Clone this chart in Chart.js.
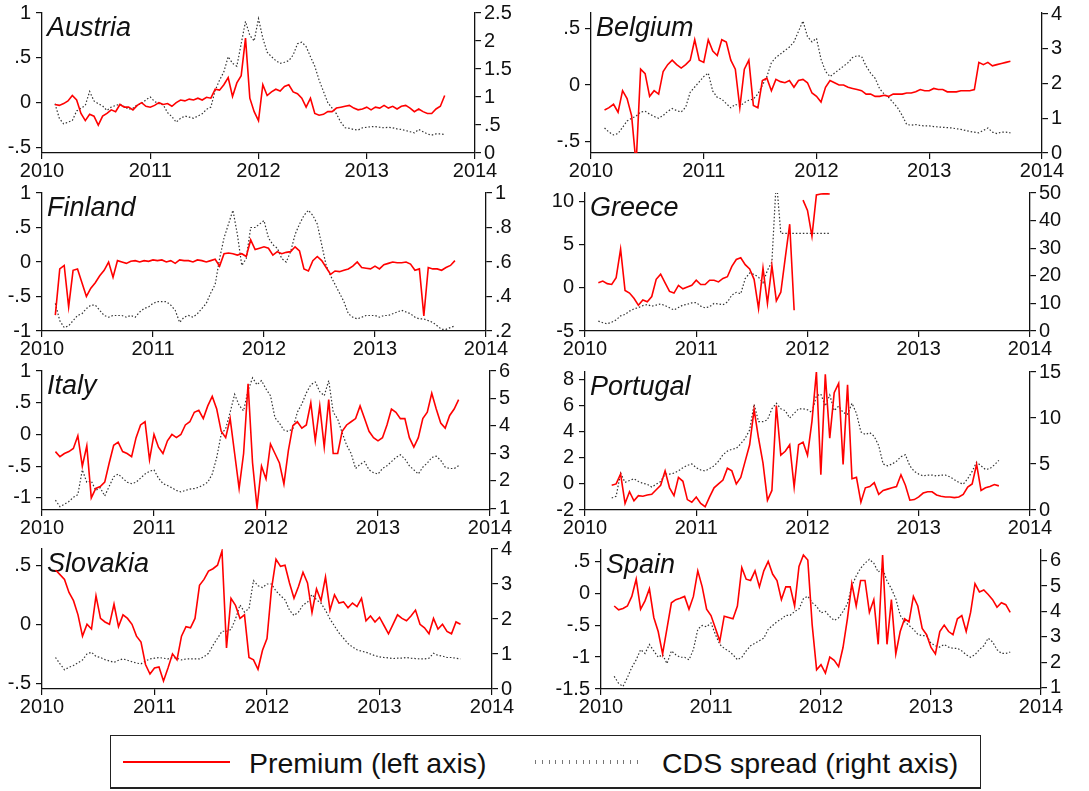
<!DOCTYPE html>
<html lang="en">
<head>
    <meta charset="UTF-8">
    <title>Premium and CDS spread</title>
    <script src="https://cdn.jsdelivr.net/npm/chart.js"></script>
    <style>
        body { margin: 0; width: 1089px; height: 791px; position: relative; overflow: hidden; background: #fff;
               font-family: "Liberation Sans", Arial, sans-serif; color: #111; }
        canvas { position: absolute; }
        .legend-box { position: absolute; left: 110px; top: 735px; width: 871px; height: 54px; box-sizing: border-box;
                      border: 1.5px solid #222; border-bottom-width: 2.5px; }
        .legend-text { position: absolute; font-size: 28.5px; line-height: 1; top: 749px; white-space: nowrap; }
        .sample-red { position: absolute; left: 123px; top: 761px; width: 107px; height: 2px; background: #ff0000; }
        .sample-dot { position: absolute; left: 535px; top: 760px; width: 103px; height: 4px;
                      background: repeating-linear-gradient(to right, #777 0 1px, transparent 1px 6.8px); }
    </style>
</head>
<body>
    <div class="legend-box"></div>
    <div class="sample-red"></div>
    <div class="legend-text" style="left:249px">Premium (left axis)</div>
    <div class="sample-dot"></div>
    <div class="legend-text" style="left:662px">CDS spread (right axis)</div>

<script>
// dates in decimal years, about two weeks apart
const dates = [
    2010.12, 2010.16, 2010.20, 2010.24, 2010.28, 2010.32, 2010.36, 2010.40, 2010.44, 2010.48,
    2010.52, 2010.56, 2010.60, 2010.64, 2010.68, 2010.72, 2010.76, 2010.80, 2010.84, 2010.88,
    2010.92, 2010.96, 2011.00, 2011.04, 2011.08, 2011.12, 2011.16, 2011.20, 2011.24, 2011.28,
    2011.32, 2011.36, 2011.40, 2011.44, 2011.48, 2011.52, 2011.56, 2011.60, 2011.64, 2011.68,
    2011.72, 2011.76, 2011.80, 2011.84, 2011.88, 2011.92, 2011.96, 2012.00, 2012.04, 2012.08,
    2012.12, 2012.16, 2012.20, 2012.24, 2012.28, 2012.32, 2012.36, 2012.40, 2012.44, 2012.48,
    2012.52, 2012.56, 2012.60, 2012.64, 2012.68, 2012.72, 2012.76, 2012.80, 2012.84, 2012.88,
    2012.92, 2012.96, 2013.00, 2013.04, 2013.08, 2013.12, 2013.16, 2013.20, 2013.24, 2013.28,
    2013.32, 2013.36, 2013.40, 2013.44, 2013.48, 2013.52, 2013.56, 2013.60, 2013.64, 2013.68,
    2013.72
];
const yearTicks = [2010, 2011, 2012, 2013, 2014];

const austriaPremium = [
    -0.02, -0.03, -0.01, 0.02, 0.08, 0.03, -0.12, -0.2, -0.13, -0.15,
    -0.25, -0.15, -0.12, -0.08, -0.1, -0.02, -0.05, -0.05, -0.08, -0.03,
    0.0, -0.04, -0.05, -0.03, 0.0, -0.02, -0.01, -0.04, 0.0, 0.03,
    0.02, 0.04, 0.03, 0.05, 0.03, 0.06, 0.05, 0.15, 0.14, 0.2,
    0.28, 0.07, 0.22, 0.3, 0.72, 0.05, -0.1, -0.2, 0.2, 0.08,
    0.12, 0.15, 0.13, 0.18, 0.2, 0.12, 0.1, 0.05, -0.05, 0.05,
    -0.12, -0.14, -0.13, -0.1, -0.1, -0.06, -0.05, -0.04, -0.03, -0.06,
    -0.08, -0.07, -0.05, -0.08, -0.05, -0.06, -0.03, -0.06, -0.04, -0.07,
    -0.04, -0.03, -0.06, -0.1, -0.07, -0.1, -0.12, -0.12, -0.07, -0.04,
    0.08
];
const austriaCds = [
    0.88, 0.62, 0.52, 0.55, 0.58, 0.75, 0.8, 0.85, 1.1, 0.93,
    0.88, 0.84, 0.76, 0.82, 0.85, 0.87, 0.83, 0.78, 0.8, 0.86,
    0.88, 0.95, 1.0, 0.92, 0.88, 0.86, 0.72, 0.65, 0.55, 0.62,
    0.66, 0.64, 0.62, 0.66, 0.7, 0.78, 0.82, 1.12, 1.3, 1.45,
    1.72, 1.6, 1.55, 1.95, 2.35, 2.1, 2.0, 2.4, 2.05, 1.8,
    1.72, 1.65, 1.6, 1.62, 1.65, 1.75, 1.95, 1.98, 1.9, 1.72,
    1.55, 1.3, 1.1, 0.9, 0.8, 0.7, 0.55, 0.45, 0.44, 0.42,
    0.41, 0.45, 0.46, 0.47, 0.47, 0.46, 0.45, 0.46, 0.45, 0.43,
    0.42, 0.4, 0.38, 0.36, 0.42, 0.38, 0.34, 0.32, 0.34, 0.34,
    0.33
];

const belgiumPremium = [
    -0.22, -0.2, -0.17, -0.24, -0.05, -0.12, -0.27, -0.7, 0.14, 0.1,
    -0.1, -0.05, -0.08, 0.12, 0.18, 0.22, 0.18, 0.15, 0.18, 0.22,
    0.4, 0.22, 0.2, 0.4, 0.3, 0.26, 0.4, 0.38, 0.22, 0.14,
    -0.2, 0.14, 0.22, -0.18, -0.2, 0.04, 0.06, -0.05, 0.05, 0.03,
    0.02, 0.04, -0.02, 0.04, 0.05, 0.02, -0.07, -0.1, -0.15, -0.02,
    0.04, 0.02, 0.0, 0.0, -0.02, -0.03, -0.04, -0.05, -0.08, -0.08,
    -0.1, -0.1, -0.09, -0.1, -0.08, -0.08, -0.08, -0.07, -0.07, -0.06,
    -0.04, -0.05, -0.05, -0.03, -0.04, -0.04, -0.06, -0.06, -0.06, -0.05,
    -0.05, -0.05, -0.04, 0.2, 0.18, 0.2, 0.17, 0.18, 0.19, 0.2,
    0.21
];
const belgiumCds = [
    0.72, 0.6, 0.52, 0.56, 0.74, 0.92, 1.0, 1.06, 1.18, 1.2,
    1.12, 1.05, 1.0, 1.08, 1.2, 1.28, 1.22, 1.18, 1.32, 1.75,
    1.9, 2.05, 2.2, 2.3, 1.78, 1.6, 1.55, 1.42, 1.3, 1.4,
    1.35, 1.45, 1.52, 1.55, 1.7, 1.95, 2.2, 2.6, 2.75, 2.85,
    2.95, 3.05, 3.2, 3.5, 3.8, 3.35, 3.2, 3.3, 2.7, 2.35,
    2.2, 2.3, 2.4, 2.5, 2.6, 2.75, 2.8, 2.78, 2.5, 2.3,
    2.15, 1.85, 1.7, 1.6, 1.45, 1.3, 1.08, 0.82, 0.8, 0.82,
    0.79, 0.78, 0.78, 0.76, 0.75, 0.74, 0.73, 0.72, 0.7, 0.68,
    0.65, 0.62, 0.6, 0.58, 0.65, 0.72, 0.6, 0.56, 0.6, 0.6,
    0.58
];

const finlandPremium = [
    -0.77, -0.1, -0.05, -0.65, -0.12, -0.1, -0.3, -0.5, -0.38, -0.3,
    -0.2, -0.12, 0.0, -0.22, 0.02, 0.0, -0.02, 0.01, 0.02, 0.0,
    0.02, 0.01, 0.03, 0.02, 0.03, 0.0, 0.02, -0.02, 0.03, 0.02,
    0.02, 0.0, 0.03, 0.02, 0.0, 0.02, 0.04, -0.06, 0.12, 0.13,
    0.12, 0.1, 0.12, 0.08, 0.32, 0.18, 0.2, 0.22, 0.2, 0.1,
    0.15, 0.12, 0.14, 0.15, 0.22, 0.16, -0.1, -0.13, 0.02, 0.08,
    0.02, -0.08, -0.18, -0.13, -0.14, -0.12, -0.1, -0.06, 0.0, -0.08,
    -0.09, -0.1, -0.06, -0.1, -0.04, -0.02, 0.0, -0.01, -0.01, 0.0,
    -0.03, -0.12, -0.1, -0.78, -0.08, -0.1, -0.1, -0.12, -0.08, -0.05,
    0.02
];
const finlandCds = [
    0.36, 0.26, 0.22, 0.23, 0.26, 0.29, 0.3, 0.33, 0.35, 0.35,
    0.32, 0.29, 0.28, 0.29, 0.29, 0.29, 0.28, 0.29, 0.28, 0.31,
    0.33, 0.34, 0.36, 0.37, 0.37, 0.37, 0.35, 0.32, 0.25, 0.28,
    0.29, 0.28, 0.3, 0.33, 0.36, 0.42, 0.47, 0.62, 0.74, 0.82,
    0.9, 0.76, 0.58, 0.62, 0.8, 0.8, 0.82, 0.84, 0.74, 0.7,
    0.68, 0.62, 0.6, 0.66, 0.76, 0.82, 0.87, 0.9, 0.87, 0.82,
    0.7, 0.58, 0.52, 0.47, 0.42, 0.37, 0.3, 0.28, 0.27, 0.28,
    0.29, 0.29, 0.29, 0.28, 0.29, 0.29, 0.3, 0.31, 0.32, 0.31,
    0.3, 0.28, 0.27, 0.27, 0.26, 0.25, 0.23, 0.21, 0.21, 0.22,
    0.23
];

const greecePremium = [
    0.6, 0.8, 0.5, 0.4, 1.2, 4.5, -0.3, -0.6, -1.2, -2.0,
    -1.4, -1.6, -1.0, 1.0, 1.6, 0.6, -0.4, -0.6, 0.3, -0.1,
    0.1, 0.3, 0.9, 0.4, 0.4, 0.9, 0.9, 0.7, 1.1, 1.3,
    2.5, 3.3, 3.5, 2.7, 2.2, 1.0, -2.4, 2.3, -1.8, 2.6,
    -1.5, -0.5, 3.5, 7.4, -2.6, null, 10.2, 9.0, 6.0, 10.8,
    10.9, 10.95, 10.9, null, null, null, null, null, null, null,
    null, null, null, null, null, null, null, null, null, null,
    null, null, null, null, null, null, null, null, null, null,
    null, null, null, null, null, null, null, null, null, null,
    null
];
const greeceCds = [
    3.6, 3.0, 2.6, 3.2, 4.0, 5.5, 6.0, 7.2, 8.0, 8.5,
    9.2, 9.6, 9.0, 9.4, 9.8, 9.2, 8.4, 7.6, 8.5, 9.4,
    9.7, 10.2, 10.3, 9.0, 8.4, 8.8, 10.0, 9.8, 9.5, 10.5,
    13.0, 14.0, 13.5, 19.0, 21.0, 20.5, 19.5, 17.5, 22.0, 25.0,
    55, 35.4, 35.4, 35.4, 35.4, 35.4, 35.4, 35.4, 35.4, 35.4,
    35.4, 35.4, 35.4, null, null, null, null, null, null, null,
    null, null, null, null, null, null, null, null, null, null,
    null, null, null, null, null, null, null, null, null, null,
    null, null, null, null, null, null, null, null, null, null,
    null
];

const italyPremium = [
    -0.27, -0.35, -0.3, -0.27, -0.22, -0.02, -0.5, -0.18, -1.0, -0.85,
    -0.82, -0.75, -0.45, -0.17, -0.12, -0.27, -0.3, -0.35, -0.05, 0.15,
    0.2, -0.4, 0.0, -0.2, -0.3, -0.1, 0.0, -0.05, 0.0, 0.15,
    0.2, 0.35, 0.38, 0.25, 0.45, 0.6, 0.4, 0.05, -0.05, 0.25,
    -0.3, -0.85, -0.3, 0.8, -0.45, -1.15, -0.5, -0.7, -0.15, -0.3,
    -0.45, -0.78, -0.25, 0.14, 0.2, 0.1, 0.15, 0.5, -0.1, 0.45,
    -0.2, 0.55, -0.3, -0.3, 0.05, 0.15, 0.2, 0.25, 0.45, 0.25,
    0.05, -0.05, -0.1, -0.05, 0.15, 0.4, 0.35, 0.25, 0.25, -0.05,
    -0.2, -0.05, 0.25, 0.35, 0.65, 0.4, 0.18, 0.1, 0.3, 0.4,
    0.55
];
const italyCds = [
    1.3, 1.06, 1.15, 1.25, 1.4, 1.5, 2.4, 1.95, 2.0, 1.65,
    1.75, 1.45, 1.8, 2.15, 2.25, 2.1, 1.95, 1.9, 1.95, 2.1,
    2.25, 2.35, 2.4, 2.1, 1.9, 1.83, 1.75, 1.65, 1.6, 1.65,
    1.7, 1.72, 1.77, 1.85, 1.95, 2.25, 2.85, 3.7, 3.9, 4.5,
    5.15, 4.75, 4.55, 5.3, 5.75, 5.5, 5.65, 5.35, 5.1, 4.3,
    4.1, 3.85, 3.8, 3.9, 4.5, 4.8, 5.2, 5.5, 5.6, 5.25,
    5.1, 5.65, 4.5, 4.25, 3.75, 3.3, 3.0, 2.45, 2.6, 2.7,
    2.4, 2.3, 2.25, 2.45, 2.55, 2.7, 2.85, 2.95, 2.8, 2.55,
    2.4, 2.25, 2.5, 2.65, 2.85, 2.9, 2.75, 2.5, 2.45, 2.45,
    2.55
];

const portugalPremium = [
    null, null, null, -0.1, 0.0, 0.75, -1.5, -0.6, -1.3, -0.9,
    -0.95, -0.85, -0.8, -0.45, -0.1, 1.0, -0.3, -0.9, 0.5, 0.2,
    -1.2, -1.4, -1.0, -1.5, -1.75, -1.0, -0.3, 0.0, 0.3, 1.2,
    1.0, 0.0, 0.5, 1.75, 3.0, 5.7, 3.5, 1.6, -1.25, -0.5,
    6.0, 2.2, 2.5, 3.0, -0.25, 3.0, 3.2, 2.2, 4.8, 8.6,
    0.7, 8.4, 3.5, 7.0, 7.7, 1.5, 7.6, 0.4, 0.5, -1.4,
    -0.3, -0.2, 0.1, -0.8, -0.5, -0.4, -0.3, -0.2, 0.7, -0.1,
    -1.25, -1.2, -1.0, -0.7, -0.6, -0.6, -0.85, -0.95, -1.0, -1.0,
    -1.05, -1.0, -0.8, -0.25, 0.0, 1.5, -0.5, -0.3, -0.2, -0.05,
    -0.15
];
const portugalCds = [
    null, null, null, 1.3, 1.5, 4.0, 3.0, 3.2, 3.4, 3.1,
    2.9, 2.8, 2.5, 2.8, 3.1, 3.9, 3.9, 4.0, 4.25, 4.6,
    4.85, 5.0, 4.6, 4.35, 4.25, 4.5, 4.8, 5.3, 6.0, 6.4,
    6.6, 6.7, 7.2, 7.8, 8.7, 11.5, 9.6, 9.6, 9.8, 11.0,
    11.6, 11.0, 10.8, 10.0, 10.5, 11.0, 11.0, 10.9, 10.6, 12.4,
    12.6, 11.3, 12.5, 10.8, 11.3, 10.6, 10.4, 11.6, 10.5, 8.5,
    8.2, 8.4, 8.0, 7.0, 5.0, 4.8, 5.0, 5.3, 5.8, 6.0,
    4.8, 4.2, 3.9, 3.7, 3.8, 3.8, 3.7, 3.8, 3.8, 3.6,
    3.3, 3.0, 2.8, 3.4, 4.2, 5.2, 4.8, 4.4, 4.5, 4.9,
    5.4
];

const slovakiaPremium = [
    0.46, 0.42, 0.38, 0.27, 0.2, 0.08, -0.1, 0.0, -0.04, 0.24,
    0.05, 0.02, 0.0, 0.17, -0.02, 0.08, 0.05, 0.0, -0.1, -0.15,
    -0.34, -0.42, -0.37, -0.36, -0.48, -0.37, -0.25, -0.3, -0.1, -0.02,
    -0.03, 0.05, 0.33, 0.38, 0.45, 0.47, 0.5, 0.62, -0.2, 0.22,
    0.16, 0.05, 0.08, -0.28, -0.3, -0.38, -0.22, -0.12, 0.3, 0.55,
    0.49, 0.5, 0.35, 0.22, 0.32, 0.44, 0.35, 0.1, 0.3, 0.2,
    0.4, 0.12, 0.25, 0.18, 0.19, 0.14, 0.18, 0.15, 0.22, 0.03,
    0.07, 0.02, 0.06, -0.01, -0.08, 0.0, 0.08, 0.05, 0.03, 0.07,
    0.12, 0.0, -0.03, -0.08, 0.05, -0.04, 0.0, -0.06, -0.08, 0.02,
    0.0
];
const slovakiaCds = [
    0.9, 0.72, 0.55, 0.62, 0.67, 0.75, 0.83, 1.0, 1.05, 0.93,
    0.9, 0.84, 0.8, 0.76, 0.82, 0.86, 0.82, 0.78, 0.74, 0.72,
    0.8, 0.86, 0.88, 0.9, 0.88, 0.86, 0.9, 0.88, 0.83, 0.86,
    0.86, 0.86, 0.86, 0.92, 1.02, 1.25, 1.45, 1.65, 1.65, 1.7,
    2.0, 2.4, 2.2, 2.3, 3.1, 2.95, 2.9, 3.0, 3.0, 2.8,
    2.67, 2.55, 2.25, 2.1, 2.2, 2.4, 2.48, 2.7, 2.55, 2.45,
    2.25, 2.0, 1.8, 1.6, 1.45, 1.3, 1.2, 1.12, 1.08, 1.05,
    1.0, 0.95, 0.92, 0.9, 0.89, 0.87, 0.88, 0.88, 0.9, 0.88,
    0.87, 0.86, 0.86, 0.88, 1.02, 0.96, 0.94, 0.9, 0.9, 0.88,
    0.86
];

const spainPremium = [
    -0.2, -0.26, -0.24, -0.2, -0.05, 0.22, -0.25, -0.12, 0.07, -0.38,
    -0.6, -0.95, -0.55, -0.15, -0.1, -0.08, -0.05, -0.25, -0.05, 0.35,
    0.1, -0.25, -0.35, -0.55, -0.75, -0.36, -0.38, -0.4, -0.2, 0.4,
    0.22, 0.2, 0.35, 0.1, 0.35, 0.5, 0.3, 0.2, -0.1, 0.1,
    0.1, -0.2, 0.42, 0.6, 0.52, -0.5, -1.2, -1.12, -1.25, -1.0,
    -1.05, -1.15, -0.85, -0.4, 0.15, -0.2, 0.2, 0.2, -0.3, -0.1,
    -0.8, 0.6, -0.8, -0.1, -0.95, -0.6, -0.4, -0.45, -0.05, -0.2,
    -0.55, -0.65, -0.85, -0.95, -0.6, -0.5, -0.6, -0.65, -0.4, -0.35,
    -0.6, -0.3, 0.15, 0.02, 0.05, -0.02, -0.1, -0.22, -0.15, -0.18,
    -0.3
];
const spainCds = [
    1.45, 1.17, 1.05, 1.4, 1.8, 2.1, 2.5, 2.35, 2.7, 2.45,
    2.2, 2.3, 1.95, 2.45, 2.3, 2.2, 2.2, 2.1, 2.5, 3.3,
    3.45, 3.4, 3.55, 3.1, 2.7, 2.55, 2.45, 2.3, 2.1, 2.2,
    2.45, 2.65, 2.75, 2.85, 2.95, 3.3, 3.45, 3.6, 3.7, 3.85,
    3.85, 4.0, 4.1, 4.5, 4.6, 4.35, 4.2, 3.95, 4.0, 3.8,
    3.65, 3.75, 4.0, 4.3, 5.0, 5.4, 5.7, 5.9, 6.05, 5.9,
    5.55, 5.7, 5.2, 4.9, 4.5, 3.85, 3.6, 3.45, 3.3, 3.1,
    3.05, 3.05, 2.75, 2.65, 2.6, 2.7, 2.6, 2.55, 2.55, 2.45,
    2.3, 2.2, 2.3, 2.5, 2.65, 2.95, 2.8, 2.5, 2.35, 2.35,
    2.4
];

// tick labels of each panel
const austriaLeftTicks = [-0.5, 0, 0.5, 1];
const austriaRightTicks = [0, 0.5, 1, 1.5, 2, 2.5];
const belgiumLeftTicks = [-0.5, 0, 0.5];
const belgiumRightTicks = [0, 1, 2, 3, 4];
const finlandLeftTicks = [-1, -0.5, 0, 0.5, 1];
const finlandRightTicks = [0.2, 0.4, 0.6, 0.8, 1];
const greeceLeftTicks = [-5, 0, 5, 10];
const greeceRightTicks = [0, 10, 20, 30, 40, 50];
const italyLeftTicks = [-1, -0.5, 0, 0.5, 1];
const italyRightTicks = [1, 2, 3, 4, 5, 6];
const portugalLeftTicks = [-2, 0, 2, 4, 6, 8];
const portugalRightTicks = [0, 5, 10, 15];
const slovakiaLeftTicks = [-0.5, 0, 0.5];
const slovakiaRightTicks = [0, 1, 2, 3, 4];
const spainLeftTicks = [-1.5, -1, -0.5, 0, 0.5];
const spainRightTicks = [1, 2, 3, 4, 5, 6];

// box = plot area [left, top, right, bottom] on the page
const panels = [
    { name: 'Austria', premium: austriaPremium, cds: austriaCds, box: [42, 10, 475, 153],
      left: [-0.561, 1], right: [0, 2.5], leftTicks: austriaLeftTicks, rightTicks: austriaRightTicks },
    { name: 'Belgium', premium: belgiumPremium, cds: belgiumCds, box: [591, 10, 1042, 153],
      left: [-0.6, 0.636], right: [0, 4.03], leftTicks: belgiumLeftTicks, rightTicks: belgiumRightTicks },
    { name: 'Finland', premium: finlandPremium, cds: finlandCds, box: [42, 190, 486, 331],
      left: [-1, 1], right: [0.2, 1], leftTicks: finlandLeftTicks, rightTicks: finlandRightTicks },
    { name: 'Greece', premium: greecePremium, cds: greeceCds, box: [585, 190, 1030, 331],
      left: [-5, 11.02], right: [0, 50], leftTicks: greeceLeftTicks, rightTicks: greeceRightTicks },
    { name: 'Italy', premium: italyPremium, cds: italyCds, box: [42, 368, 490, 510],
      left: [-1.19, 1], right: [0.94, 6], leftTicks: italyLeftTicks, rightTicks: italyRightTicks },
    { name: 'Portugal', premium: portugalPremium, cds: portugalCds, box: [585, 369, 1030, 510],
      left: [-2, 8.58], right: [0, 15], leftTicks: portugalLeftTicks, rightTicks: portugalRightTicks },
    { name: 'Slovakia', premium: slovakiaPremium, cds: slovakiaCds, box: [42, 546, 492, 689],
      left: [-0.547, 0.637], right: [0, 4], leftTicks: slovakiaLeftTicks, rightTicks: slovakiaRightTicks },
    { name: 'Spain', premium: spainPremium, cds: spainCds, box: [601, 547, 1041, 689],
      left: [-1.5, 0.677], right: [0.95, 6.42], leftTicks: spainLeftTicks, rightTicks: spainRightTicks }
];

const FONT = '"Liberation Sans", Arial, sans-serif';
const ML = 64, MR = 56, MT = 14, MB = 34;

// Stata style labels: .5 and -.5 instead of 0.5
function stataLabel(v) {
    const s = String(Math.round(v * 100) / 100);
    return s.replace(/^0\./, '.').replace(/^-0\./, '-.');
}

const panelTitle = {
    id: 'panelTitle',
    beforeDatasetsDraw(chart, args, opts) {
        const { ctx, chartArea } = chart;
        ctx.save();
        ctx.font = 'italic 27px ' + FONT;
        ctx.fillStyle = '#111';
        ctx.textBaseline = 'alphabetic';
        ctx.fillText(opts.text, chartArea.left + 5, chartArea.top + 23);
        ctx.restore();
    }
};

function axisStyle(extra) {
    return Object.assign({
        grid: { drawOnChartArea: false, drawTicks: true, tickLength: 6, color: '#111', lineWidth: 1.2 },
        border: { display: true, color: '#111', width: 1.3 },
        ticks: { color: '#111', font: { family: FONT, size: 20 }, autoSkip: false, maxRotation: 0, padding: 5 }
    }, extra);
}

function toPoints(values) {
    return dates.map((d, i) => ({ x: d, y: values[i] }));
}

function drawPanel(p) {
    const [L, T, R, B] = p.box;
    const canvas = document.createElement('canvas');
    canvas.width = R - L + ML + MR;
    canvas.height = B - T + MT + MB;
    canvas.style.left = (L - ML) + 'px';
    canvas.style.top = (T - MT) + 'px';
    document.body.appendChild(canvas);

    const x = axisStyle({ type: 'linear', position: 'bottom', min: 2010, max: 2014,
        afterBuildTicks: s => { s.ticks = yearTicks.map(v => ({ value: v })); },
        afterFit: s => { s.height = MB; } });
    x.ticks.callback = v => String(v);
    x.ticks.padding = 0;

    const yL = axisStyle({ type: 'linear', position: 'left', min: p.left[0], max: p.left[1],
        afterBuildTicks: s => { s.ticks = p.leftTicks.map(v => ({ value: v })); },
        afterFit: s => { s.width = ML; } });
    yL.ticks.callback = v => stataLabel(v);

    const yR = axisStyle({ type: 'linear', position: 'right', min: p.right[0], max: p.right[1],
        afterBuildTicks: s => { s.ticks = p.rightTicks.map(v => ({ value: v })); },
        afterFit: s => { s.width = MR; } });
    yR.ticks.callback = v => stataLabel(v);
    yR.ticks.padding = 3;

    new Chart(canvas, {
        type: 'line',
        data: {
            datasets: [
                { label: 'Premium (left axis)', data: toPoints(p.premium), yAxisID: 'yL',
                  borderColor: '#ff0000', borderWidth: 1.6, pointRadius: 0, tension: 0, spanGaps: false },
                { label: 'CDS spread (right axis)', data: toPoints(p.cds), yAxisID: 'yR',
                  borderColor: '#333', borderWidth: 1.2, borderDash: [1.5, 2], borderCapStyle: 'butt',
                  pointRadius: 0, tension: 0, spanGaps: false }
            ]
        },
        options: {
            responsive: false,
            animation: false,
            events: [],
            layout: { autoPadding: false, padding: { top: MT, left: 0, right: 0, bottom: 0 } },
            plugins: { legend: { display: false }, tooltip: { enabled: false }, panelTitle: { text: p.name } },
            scales: { x: x, yL: yL, yR: yR }
        },
        plugins: [panelTitle]
    });
}

panels.forEach(drawPanel);
</script>
</body>
</html>
